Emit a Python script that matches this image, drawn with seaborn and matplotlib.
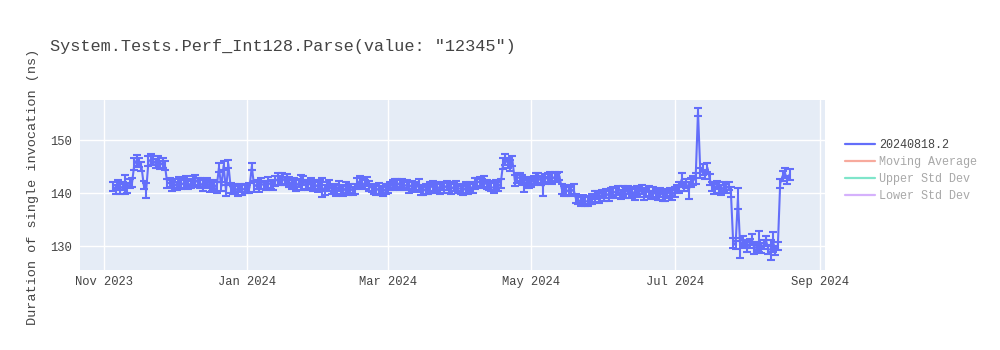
import numpy as np
import pandas as pd
import matplotlib
matplotlib.use('Agg')
import matplotlib.pyplot as plt
import matplotlib.dates as mdates
from matplotlib.lines import Line2D
import seaborn as sns

title = 'System.Tests.Perf_Int128.Parse(value: "12345")'
y_label = 'Duration of single invocation (ns)'
legend_labels = ['20240818.2', 'Moving Average', 'Upper Std Dev', 'Lower Std Dev']
start_date = '2023-11-05'
y_ticks = [130, 140, 150]

# daily mean durations (ns), by month
nov = [141.2, 140.7, 141.5, 140.8, 141.3, 141.6, 141.0, 141.8, 142.0, 145.5, 146.2, 145.8, 145.0,
       141.5, 140.5, 146.0, 146.3, 146.1, 145.6, 145.9, 145.3, 145.7, 145.2, 141.8, 142.0, 141.4]
dec = [141.8, 141.3, 142.0, 141.6, 141.9, 142.1, 141.5, 141.8, 142.3, 142.5, 142.0, 141.9, 141.4,
       141.7, 142.0, 141.3, 141.2, 141.6, 141.0, 144.8, 141.2, 145.2, 140.5, 145.5, 141.0,
       140.6, 140.9, 140.4, 141.0, 140.6, 140.9]
jan = [140.8, 141.0, 145.0, 141.2, 141.6, 141.1, 141.8, 141.5, 141.4, 142.0, 141.6, 141.5, 142.3,
       142.6, 142.4, 142.8, 142.3, 142.6, 142.1, 141.6, 141.9, 141.4, 141.9, 142.0, 142.4, 141.6,
       141.5, 141.9, 141.2, 141.6, 141.2]
feb = [141.5, 141.0, 140.6, 141.2, 141.4, 140.7, 141.0, 140.5, 141.3, 140.7, 140.4, 141.0, 140.5,
       140.9, 140.4, 140.8, 141.8, 142.3, 141.9, 141.6, 142.2, 141.3, 141.0, 140.7, 140.5, 140.9,
       140.5, 140.3, 140.8]
mar = [140.9, 141.3, 141.5, 141.8, 141.9, 141.5, 141.8, 141.3, 141.6, 141.1, 141.5, 141.2, 141.0,
       141.6, 140.6, 140.4, 140.8, 140.6, 141.1, 141.3, 140.9, 141.2, 140.8, 141.3, 141.0, 141.4,
       141.0, 140.8, 141.2, 141.3, 140.9]
apr = [140.8, 140.5, 141.0, 140.8, 141.2, 140.9, 141.8, 142.0, 142.2, 141.8, 142.2, 141.6, 141.4,
       141.1, 141.0, 141.5, 141.2, 141.8, 145.6, 146.3, 145.7, 145.2, 146.0, 142.4, 142.8, 143.0,
       142.5, 141.5, 142.2, 141.7]
may = [142.0, 142.4, 142.7, 142.8, 142.4, 141.2, 142.7, 142.9, 143.0, 142.7, 143.1, 142.9, 143.2,
       140.8, 140.4, 140.3, 140.6, 140.3, 140.7, 139.0, 138.7, 138.4, 138.8, 138.5, 138.4, 138.7,
       138.9, 139.3, 139.6, 139.1, 139.8]
jun = [139.4, 139.9, 139.5, 140.0, 140.3, 140.0, 140.5, 139.7, 140.4, 140.1, 140.6, 139.9, 140.3,
       139.8, 140.5, 140.1, 140.7, 139.7, 140.1, 140.4, 139.6, 140.2, 139.8, 139.5, 140.1, 139.6,
       139.4, 139.9, 140.2, 139.6]
jul = [140.2, 140.8, 141.0, 142.5, 141.2, 141.8, 140.5, 142.0, 142.4, 142.8, 155.3, 143.8, 144.5,
       143.5, 144.8, 142.6, 141.2, 140.8, 141.5, 141.0, 140.6, 141.2, 140.9, 141.3, 140.2, 130.6,
       130.2, 139.0, 129.6, 131.0, 130.4]
aug = [129.8, 130.5, 131.2, 129.5, 130.0, 130.8, 129.6, 130.3, 131.0, 129.4, 129.3, 130.7, 129.2,
       130.0, 141.8, 143.2, 143.8, 142.5, 143.5]

# error bar half-widths (ns), by month
nov_err = [0.9, 0.8, 1.0, 0.9, 0.8, 1.8, 0.9, 0.8, 0.9, 1.1, 1.0, 0.9, 0.8, 0.8, 1.4, 0.9, 1.0,
           0.8, 0.9, 1.1, 0.8, 0.9, 0.8, 0.9, 0.8, 1.0]
dec_err = [0.9, 0.8, 1.0, 0.8, 0.9, 1.1, 0.8, 0.9, 1.0, 0.9, 0.8, 0.9, 1.0, 0.8, 0.9, 1.1, 0.8,
           0.9, 1.0, 0.9, 0.8, 0.9, 1.0, 0.8, 0.9, 0.8, 0.9, 1.0, 0.8, 0.9, 0.9]
jan_err = [0.8, 0.9, 0.7, 1.0, 0.8, 0.9, 1.1, 0.8, 0.9, 1.0, 0.8, 0.9, 1.0, 1.1, 0.9, 1.0, 0.8,
           1.0, 0.9, 0.8, 0.9, 1.0, 0.8, 1.4, 0.9, 0.8, 1.0, 0.9, 0.8, 0.9, 1.0]
feb_err = [0.9, 1.8, 0.9, 0.8, 1.0, 0.9, 0.8, 1.0, 0.9, 0.8, 0.9, 1.0, 0.8, 0.9, 0.8, 1.0, 1.1,
           1.0, 0.9, 0.8, 0.9, 1.0, 0.8, 0.9, 0.8, 1.0, 0.9, 0.8, 0.9]
mar_err = [0.9, 0.8, 1.0, 0.9, 0.8, 1.0, 0.9, 0.8, 0.9, 1.0, 0.8, 0.9, 0.8, 1.1, 0.9, 0.8, 0.9,
           0.8, 1.0, 0.9, 0.8, 0.9, 1.0, 0.8, 0.9, 0.8, 1.0, 0.9, 0.8, 0.9, 0.8]
apr_err = [0.9, 0.8, 1.0, 0.9, 0.8, 0.9, 1.0, 0.9, 0.8, 0.9, 1.0, 0.8, 0.9, 0.8, 1.0, 0.9, 0.8,
           0.9, 1.1, 1.0, 0.9, 1.0, 0.9, 1.0, 0.9, 0.8, 1.0, 1.3, 0.9, 0.8]
may_err = [0.9, 0.8, 1.0, 0.9, 0.8, 1.8, 0.9, 0.8, 0.9, 1.0, 0.8, 0.9, 0.8, 0.9, 1.0, 0.8, 0.9,
           0.8, 1.0, 0.9, 0.8, 0.9, 0.8, 1.0, 0.9, 0.8, 0.9, 1.0, 0.8, 0.9, 0.8]
jun_err = [0.9, 0.8, 1.0, 0.9, 0.8, 1.0, 0.9, 0.8, 0.9, 1.0, 0.8, 0.9, 0.8, 1.1, 0.9, 0.8, 0.9,
           1.0, 0.8, 0.9, 0.8, 1.0, 0.9, 0.8, 0.9, 1.0, 0.8, 0.9, 0.8, 0.9]
jul_err = [0.9, 0.8, 1.0, 1.3, 0.9, 0.8, 1.6, 0.9, 0.8, 1.0, 0.75, 0.9, 1.0, 0.8, 0.9, 1.0, 0.8,
           0.9, 0.8, 1.0, 0.9, 0.8, 0.9, 0.8, 1.0, 0.9, 0.8, 2.0, 1.9, 0.9, 0.8]
aug_err = [0.9, 0.8, 1.0, 0.9, 0.8, 2.0, 0.9, 0.8, 1.0, 0.9, 1.9, 1.9, 0.9, 0.8, 0.9, 1.0, 0.9,
           0.8, 1.0]

values = nov + dec + jan + feb + mar + apr + may + jun + jul + aug
errors = nov_err + dec_err + jan_err + feb_err + mar_err + apr_err + may_err + jun_err + jul_err + aug_err
dates = pd.date_range(start_date, periods=len(values), freq='D')
df = pd.DataFrame({'date': dates, 'duration': values, 'err': errors})

sns.set_theme(style='darkgrid', rc={'axes.facecolor': '#E5ECF6', 'grid.color': 'white',
                                    'grid.linewidth': 1.0, 'axes.edgecolor': '#E5ECF6'})
plt.rcParams['font.family'] = ['Liberation Mono', 'DejaVu Sans']

main_color = '#636efa'
text_color = '#444444'

fig = plt.figure(figsize=(10, 3.5), dpi=100)
ax = fig.add_axes([0.08, 1 - 270 / 350, 0.745, 170 / 350])

ax.errorbar(df['date'], df['duration'], yerr=df['err'], fmt='none', ecolor=main_color,
            elinewidth=1.5, capsize=3.2, capthick=1.5, zorder=2)
sns.lineplot(data=df, x='date', y='duration', ax=ax, color=main_color, linewidth=1.5,
             zorder=3, legend=False)

ax.set_xlim(pd.Timestamp('2023-10-21 20:00'), pd.Timestamp('2024-09-03 02:00'))
ax.set_ylim(125.5, 157.55)
ax.set_yticks(y_ticks)
ax.xaxis.set_major_locator(mdates.MonthLocator(bymonth=[1, 3, 5, 7, 9, 11]))
ax.xaxis.set_major_formatter(mdates.DateFormatter('%b %Y'))
ax.tick_params(axis='both', length=0, labelsize=8.7, colors=text_color)
ax.tick_params(axis='y', pad=6)
ax.tick_params(axis='x', pad=4.5)
ax.set_xlabel('')
ax.set_ylabel('')
for s in ax.spines.values():
    s.set_visible(False)

fig.text(0.05, 1 - 46 / 350, title, fontsize=12.2, color=text_color, ha='left', va='center')
fig.text(0.033, 1 - 187 / 350, y_label, fontsize=9.7, color=text_color, rotation=90,
         ha='center', va='center')

legend_colors = [main_color, '#f7aa9d', '#7fe5ca', '#d5b1fc']
handles = [Line2D([0], [0], color=c, linewidth=1.6) for c in legend_colors]
leg = fig.legend(handles, legend_labels, loc='upper left', bbox_to_anchor=(0.845, 1 - 139 / 350),
                 frameon=False, fontsize=8.5, handlelength=2.5, handletextpad=0.4,
                 labelspacing=0.42, borderpad=0, borderaxespad=0)
for i, t in enumerate(leg.get_texts()):
    t.set_color(text_color if i == 0 else '#a8a8a8')

fig.savefig('out.png', dpi=100)
